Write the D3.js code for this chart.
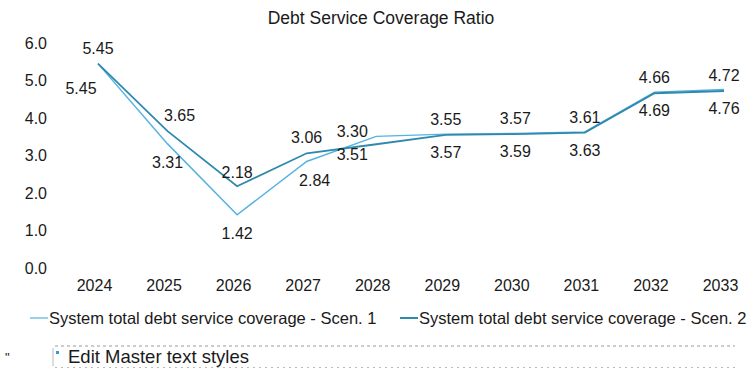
<!DOCTYPE html>
<html>
<head>
<meta charset="utf-8">
<script src="https://cdn.jsdelivr.net/npm/d3@7/dist/d3.min.js"></script>
<style>
  body { margin: 0; background: #fff; }
  text { font-family: "Liberation Sans", Arial, sans-serif; fill: #1a1a1a; }
</style>
</head>
<body>
<div id="chart"></div>
<script>
    var years = ["2024", "2025", "2026", "2027", "2028", "2029", "2030", "2031", "2032", "2033"];
    var scen1 = [5.45, 3.31, 1.42, 2.84, 3.51, 3.57, 3.59, 3.63, 4.69, 4.76];
    var scen2 = [5.45, 3.65, 2.18, 3.06, 3.30, 3.55, 3.57, 3.61, 4.66, 4.72];
    var yTicks = [0, 1, 2, 3, 4, 5, 6];
    var seriesNames = ["System total debt service coverage - Scen. 1", "System total debt service coverage - Scen. 2"];

    var svgWidth = 754;
    var svgHeight = 369;

    var svg = d3.select("#chart")
        .append("svg")
        .attr("width", svgWidth)
        .attr("height", svgHeight);

    var xScale = d3.scalePoint().domain(years).range([98, 724]);
    var yScale = d3.scaleLinear().domain([0, 6]).range([268, 43]);

    // title
    svg.append("text")
        .attr("x", 381)
        .attr("y", 24)
        .attr("text-anchor", "middle")
        .attr("font-size", "17.5px")
        .text("Debt Service Coverage Ratio");

    // y axis, labels only
    var yAxis = d3.axisLeft(yScale).tickValues(yTicks).tickFormat(d3.format(".1f")).tickSize(0).tickPadding(0);
    var gy = svg.append("g").attr("transform", "translate(47,0)").call(yAxis);
    gy.select(".domain").remove();
    gy.selectAll("text").attr("font-size", "16px").attr("fill", "#1a1a1a").attr("font-family", "Liberation Sans, Arial, sans-serif");

    // x axis, labels only
    var xAxis = d3.axisBottom(xScale).tickSize(0).tickPadding(0);
    var gx = svg.append("g").attr("transform", "translate(-4,280)").call(xAxis);
    gx.select(".domain").remove();
    gx.selectAll("text").attr("font-size", "16px").attr("fill", "#1a1a1a").attr("font-family", "Liberation Sans, Arial, sans-serif");

    var colors = ["#56b3e1", "#3089ac"];
    var line = d3.line()
        .x((d, i) => xScale(years[i]))
        .y(d => yScale(d));

    [scen1, scen2].forEach(function (s, k) {
        svg.append("path")
            .datum(s)
            .attr("fill", "none")
            .attr("stroke", colors[k])
            .attr("stroke-width", k == 0 ? 1.5 : 1.8)
            .attr("d", line);
    });

    // data labels: scen 2 above, scen 1 below, a few nudged like the original
    function labelPos(k, i) {
        var dx = 0, dy = k == 1 ? -10 : 24;
        if (k == 0 && i == 0) { dx = -17; dy = 30; }
        if (k == 1 && i == 1) { dx = 12; }
        if (k == 0 && i == 3) { dx = 8; }
        if (k == 1 && i == 2) { dy = -8; }
        if (i == 4) { dx = -24; dy = k == 1 ? -7 : 24; }
        return [dx, dy];
    }

    [scen1, scen2].forEach(function (s, k) {
        svg.append("g").selectAll("text")
            .data(s)
            .enter()
            .append("text")
            .attr("x", (d, i) => xScale(years[i]) + labelPos(k, i)[0])
            .attr("y", (d, i) => yScale(d) + labelPos(k, i)[1])
            .attr("text-anchor", "middle")
            .attr("font-size", "16px")
            .text(d => d3.format(".2f")(d));
    });

    // legend
    var legendX = [30, 400];
    seriesNames.forEach(function (name, k) {
        svg.append("line")
            .attr("x1", legendX[k]).attr("x2", legendX[k] + 18)
            .attr("y1", 318).attr("y2", 318)
            .attr("stroke", colors[k])
            .attr("stroke-width", k == 0 ? 1.2 : 2);
        svg.append("text")
            .attr("x", legendX[k] + 19)
            .attr("y", 324)
            .attr("font-size", "16.5px")
            .text(name);
    });

    // slide placeholder under the chart
    svg.append("line")
        .attr("x1", 55).attr("x2", 735).attr("y1", 346).attr("y2", 346)
        .attr("stroke", "#999").attr("stroke-dasharray", "3,3");
    svg.append("line")
        .attr("x1", 55).attr("x2", 735).attr("y1", 367.5).attr("y2", 367.5)
        .attr("stroke", "#bbb").attr("stroke-dasharray", "2,4");
    svg.append("line")
        .attr("x1", 53).attr("x2", 53).attr("y1", 348).attr("y2", 366)
        .attr("stroke", "#aaa").attr("stroke-width", 0.8);
    svg.append("rect")
        .attr("x", 56).attr("y", 351).attr("width", 3).attr("height", 3)
        .attr("fill", "#3a9ad0");
    svg.append("text")
        .attr("x", 68)
        .attr("y", 363)
        .attr("font-size", "18.5px")
        .text("Edit Master text styles");
    svg.append("text")
        .attr("x", 5)
        .attr("y", 362)
        .attr("font-size", "13px")
        .attr("fill", "#444")
        .text("\"");
</script>
</body>
</html>
